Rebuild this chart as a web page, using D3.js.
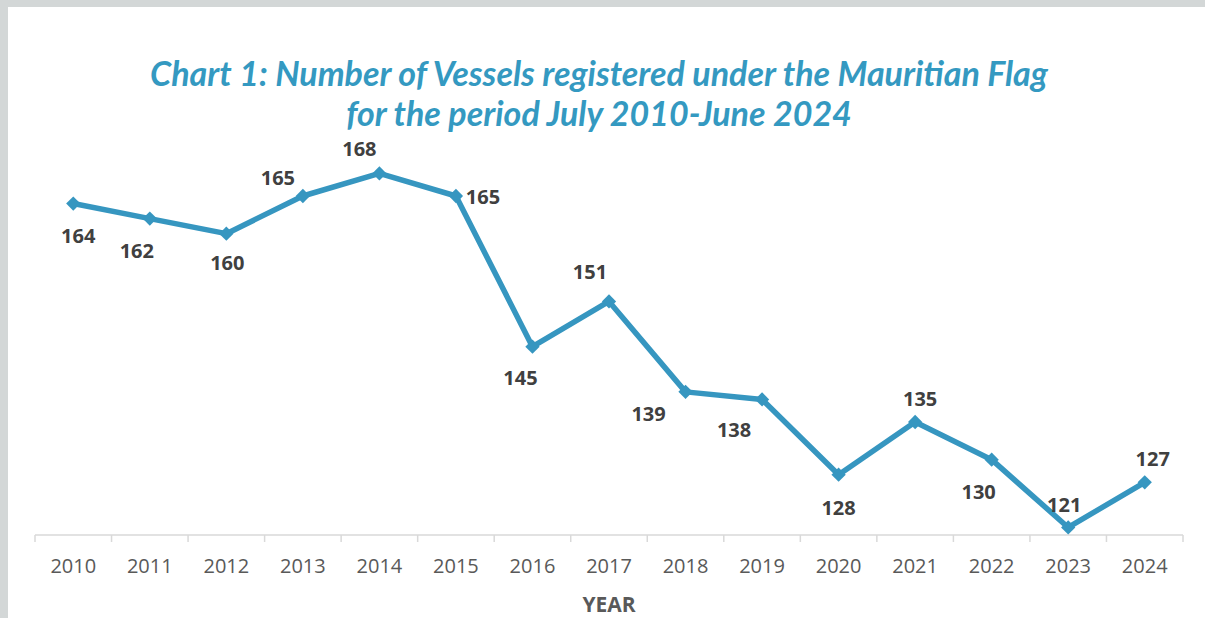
<!DOCTYPE html>
<html>
<head>
<meta charset="utf-8">
<script src="https://cdn.jsdelivr.net/npm/d3@7"></script>
<style>
  body { margin: 0; background: #d6d9d9; }
  svg { display: block; }
</style>
</head>
<body>
<div id="chart"></div>
<script>
// Vessels registered under the Mauritian Flag, July 2010 - June 2024
const years = ["2010", "2011", "2012", "2013", "2014", "2015", "2016", "2017",
  "2018", "2019", "2020", "2021", "2022", "2023", "2024"];
const vessels = [164, 162, 160, 165, 168, 165, 145, 151, 139, 138, 128, 135, 130, 121, 127];
const titleLines = [
  "Chart 1: Number of Vessels registered under the Mauritian Flag",
  "for the period July 2010-June 2024"
];

// where each data label sits relative to its point
const labelOffsets = [
  [5, 32], [-13, 32], [1, 29], [-25, -18], [-20, -24], [27, 1], [-12, 31], [-19, -29],
  [-37, 22], [-28, 31], [0, 33], [5, -23], [-13, 32], [-4, -22], [8, -23]
];

const W = 1205, H = 618;
const margin = { top: 83, right: 22, bottom: 83, left: 35 };

const svg = d3.select("#chart")
  .append("svg")
  .attr("width", W)
  .attr("height", H);

// grey surround and white panel
svg.append("rect").attr("width", W).attr("height", H).attr("fill", "#d3d7d7");
svg.append("rect")
  .attr("x", 8).attr("y", 7)
  .attr("width", W - 8).attr("height", H - 7)
  .attr("fill", "#ffffff");

const x = d3.scaleBand()
  .domain(years)
  .range([margin.left, W - margin.right]);

const y = d3.scaleLinear()
  .domain([120, 180])
  .range([H - margin.bottom, margin.top]);

// title
svg.append("g")
  .selectAll("text")
  .data(titleLines)
  .join("text")
  .attr("x", 599)
  .attr("y", (d, i) => 86 + i * 40)
  .attr("text-anchor", "middle")
  .style("font-family", "Lato, 'Open Sans', sans-serif")
  .style("font-style", "italic")
  .style("font-weight", "bold")
  .style("font-size", "34px")
  .style("fill", "#3499c1")
  .text(d => d);

// x axis with ticks between categories
const axisY = y(120);
const xAxis = svg.append("g")
  .attr("transform", `translate(0, ${axisY})`);

xAxis.append("line")
  .attr("x1", x.range()[0]).attr("x2", x.range()[1])
  .attr("stroke", "#d9d9d9").attr("stroke-width", 1.5);

xAxis.selectAll(".tick-mark")
  .data(years.concat(["end"]))
  .join("line")
  .attr("class", "tick-mark")
  .attr("x1", (d, i) => x.range()[0] + i * x.step())
  .attr("x2", (d, i) => x.range()[0] + i * x.step())
  .attr("y1", 0).attr("y2", 7)
  .attr("stroke", "#d9d9d9").attr("stroke-width", 1.5);

xAxis.selectAll(".tick-label")
  .data(years)
  .join("text")
  .attr("class", "tick-label")
  .attr("x", d => x(d) + x.bandwidth() / 2)
  .attr("y", 38)
  .attr("text-anchor", "middle")
  .style("font-family", "'Open Sans', sans-serif")
  .style("font-size", "20px")
  .style("fill", "#595959")
  .text(d => d);

svg.append("text")
  .attr("x", 609)
  .attr("y", 612)
  .attr("text-anchor", "middle")
  .style("font-family", "'Open Sans', sans-serif")
  .style("font-weight", "bold")
  .style("font-size", "21px")
  .style("fill", "#595959")
  .text("YEAR");

// line
const cx = (d, i) => x(years[i]) + x.bandwidth() / 2;

svg.append("path")
  .datum(vessels)
  .attr("fill", "none")
  .attr("stroke", "#3696c0")
  .attr("stroke-width", 5.5)
  .attr("stroke-linejoin", "round")
  .attr("d", d3.line()
    .x(cx)
    .y(d => y(d))
  );

// diamond markers
svg.append("g")
  .selectAll("path")
  .data(vessels)
  .join("path")
  .attr("transform", (d, i) => `translate(${cx(d, i)}, ${y(d)})`)
  .attr("d", d3.symbol().type(d3.symbolDiamond2).size(130))
  .attr("fill", "#3696c0");

// data labels
svg.append("g")
  .selectAll("text")
  .data(vessels)
  .join("text")
  .attr("x", (d, i) => cx(d, i) + labelOffsets[i][0])
  .attr("y", (d, i) => y(d) + labelOffsets[i][1])
  .attr("dy", "0.35em")
  .attr("text-anchor", "middle")
  .style("font-family", "'Open Sans', sans-serif")
  .style("font-weight", "bold")
  .style("font-size", "20px")
  .style("fill", "#404040")
  .text(d => d);
</script>
</body>
</html>
